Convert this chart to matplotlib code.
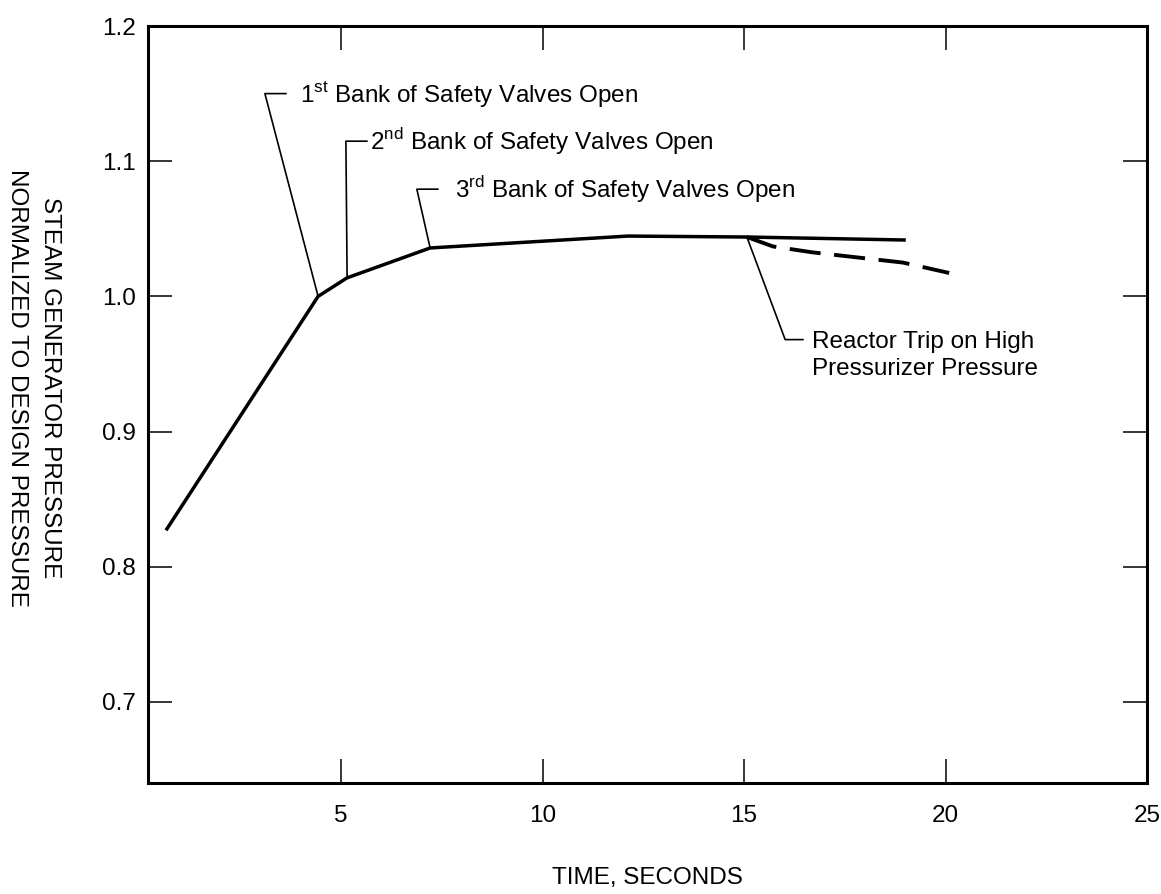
import matplotlib
matplotlib.use("Agg")
import matplotlib.pyplot as plt

plt.rcParams['font.family'] = ['Liberation Sans', 'DejaVu Sans']
plt.rcParams['mathtext.fontset'] = 'custom'
plt.rcParams['mathtext.rm'] = 'Liberation Sans'

FS = 17.5

# steam generator pressure, normalized
time_solid = [0.68, 4.43, 5.15, 7.21, 12.12, 15.07, 18.97]
press_solid = [0.828, 1.000, 1.0137, 1.0358, 1.0446, 1.0439, 1.0417]

# case with reactor trip on high pressurizer pressure
time_trip = [15.07, 15.72, 16.71, 18.94, 20.09]
press_trip = [1.0439, 1.0369, 1.0325, 1.025, 1.0173]

x_ticks = [5, 10, 15, 20, 25]
y_ticks = [0.7, 0.8, 0.9, 1.0, 1.1, 1.2]

# annotation text and which solid point it refers to
notes = [
    ("1$^{\\mathrm{st}}$ Bank of Safety Valves Open", 1),
    ("2$^{\\mathrm{nd}}$ Bank of Safety Valves Open", 2),
    ("3$^{\\mathrm{rd}}$ Bank of Safety Valves Open", 3),
]
# leader corner (x, y) and text start x, in data units
note_layout = [(3.11, 1.150, 3.98), (5.12, 1.1148, 5.72), (6.88, 1.0793, 7.83)]

fig = plt.figure(figsize=(11.61, 8.94), dpi=100)
ax = fig.add_axes([0.1275, 0.1242, 0.8605, 0.8467])

ax.plot(time_solid, press_solid, color='black', lw=2.5, solid_joinstyle='miter')
ax.plot(time_trip, press_trip, color='black', lw=2.8, dashes=(8, 3.5))

ax.set_xlim(0.21, 25)
ax.set_ylim(0.64, 1.2)
ax.set_xticks(x_ticks)
ax.set_yticks(y_ticks)
ax.set_xticklabels([str(t) for t in x_ticks])
ax.set_yticklabels(["%.1f" % t for t in y_ticks])
ax.tick_params(axis='both', direction='in', top=True, right=True,
               length=17, width=1.1, labelsize=FS)
ax.tick_params(axis='x', pad=16)
ax.tick_params(axis='y', pad=9)
for s in ax.spines.values():
    s.set_linewidth(2.2)

# leaders for safety valves
for (txt, idx), (cx, cy, tx) in zip(notes, note_layout):
    px, py = time_solid[idx], press_solid[idx]
    ax.plot([px, cx, cx + 0.52], [py, cy, cy], color='black', lw=1.2)
    ax.text(tx, cy, txt, fontsize=FS, ha='left', va='center')

# reactor trip leader
ax.plot([time_trip[0], 16.02, 16.46], [press_trip[0], 0.968, 0.968], color='black', lw=1.2)
ax.text(16.69, 0.9565, "Reactor Trip on High\nPressurizer Pressure", fontsize=FS,
        ha='left', va='center', linespacing=1.3)

fig.text(0.5577, 0.018, "TIME, SECONDS", fontsize=FS, ha='center', va='center')
fig.text(0.029, 0.566, "STEAM GENERATOR PRESSURE\nNORMALIZED TO DESIGN PRESSURE",
         fontsize=FS, ha='center', va='center', rotation=-90, multialignment='center',
         linespacing=1.65)

fig.savefig("out.png", dpi=100)
